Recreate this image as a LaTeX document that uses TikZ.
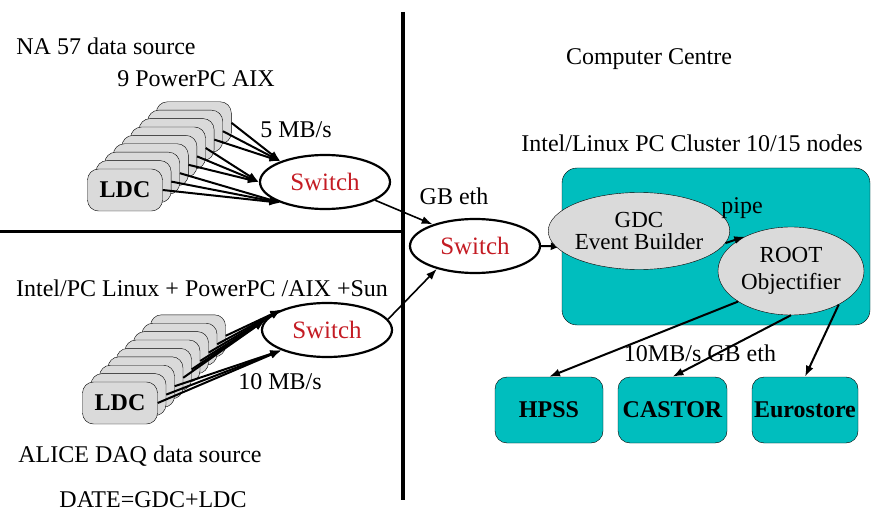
\documentclass[tikz,border=0pt]{standalone}
\usepackage{fontspec}
\setmainfont{Liberation Serif}
\usetikzlibrary{shapes.geometric,arrows.meta}
\definecolor{colteal}{RGB}{0,190,190}
\definecolor{colgray}{RGB}{218,218,218}
\definecolor{colred}{RGB}{196,28,36}
\tikzset{
  txt/.style={
    font=\fontsize{24}{27}\selectfont,
    inner sep=0pt
  },
  ldc/.style={
    draw, fill=colgray, rectangle, rounded corners=11pt,
    minimum width=75pt, minimum height=42pt, inner sep=0pt,
    font=\fontsize{24}{27}\selectfont\bfseries
  },
  swnode/.style={
    draw, ellipse, line width=2.2pt, inner sep=0pt,
    minimum width=130pt, minimum height=54pt,
    text=colred, font=\fontsize{25}{27}\selectfont
  },
  proc/.style={
    draw, ellipse, fill=colgray, align=center, inner sep=0pt
  },
  store/.style={
    draw, fill=colteal, rectangle, rounded corners=12pt,
    minimum height=66pt, inner sep=0pt,
    font=\fontsize{24}{27}\selectfont\bfseries
  },
  link/.style={-{Latex[length=11pt,width=8pt]}, line width=2pt}
}

\begin{document}
\begin{tikzpicture}[x=1pt,y=-1pt]
  \useasboundingbox (0,0) rectangle (871,516);

  % dividing lines
  \draw[line width=4pt] (403,12) -- (403,500);
  \draw[line width=3pt] (0,232) -- (403,232);

  % The labels
  \node[txt] (na57) at (106,46) {NA 57 data source};
  \node[txt] (aix) at (196,79) {9 PowerPC AIX};
  \node[txt] (rateA) at (296,130) {5 MB/s};
  \node[txt] (intel) at (202,288) {Intel/PC Linux + PowerPC /AIX +Sun};
  \node[txt] (rateB) at (280,382) {10 MB/s};
  \node[txt] (alice) at (140,456) {ALICE DAQ data source};
  \node[txt] (date) at (153,500) {DATE=GDC+LDC};
  \node[txt] (gbeth) at (454,196) {GB eth};
  \node[txt] (cc) at (649,59) {Computer Centre};
  \node[txt] (pcc) at (692,143) {Intel/Linux PC Cluster 10/15 nodes};

  % LDC stacks
  \foreach \i in {8,7,...,1}
    \node[ldc] (ldcA-\i) at (125+8.6*\i, 190-8.4*\i) {};
  \node[ldc] (ldcA-0) at (125,190) {LDC};
  \foreach \i in {8,7,...,1}
    \node[ldc] (ldcB-\i) at (120+8.5*\i, 403-8.4*\i) {};
  \node[ldc] (ldcB-0) at (120,403) {LDC};

  % switches
  \node[swnode] (swA) at (325,182) {Switch};
  \node[swnode] (swB) at (327,330) {Switch};
  \node[swnode] (swC) at (475,246) {Switch};

  \foreach \i in {0,1,2}
    \draw[link] (ldcA-\i.east) -- (swA.205);
  \foreach \i in {3,4,5}
    \draw[link] (ldcA-\i.east) -- (swA.180);
  \foreach \i in {6,7,8}
    \draw[link] (ldcA-\i.east) -- (swA.155);

  \foreach \i in {0,1,2}
    \draw[link] (ldcB-\i.east) -- (swB.204);
  \foreach \i in {3,4,5}
    \draw[link] (ldcB-\i.east) -- (swB.171);
  \foreach \i in {6,7,8}
    \draw[link] (ldcB-\i.east) -- (swB.156);

  \draw[link, line width=1.6pt] (swA.-20) -- (swC.153);
  \draw[link, line width=1.6pt] (swB.10) -- (swC.211);

  % cluster
  \node[draw, fill=colteal, rectangle, rounded corners=15pt,
        minimum width=308pt, minimum height=157pt] (cluster) at (716,246.5) {};
  \draw[link] (swC.east) -- (cluster.west);

  \node[proc, minimum width=142pt, minimum height=77pt,
        font=\fontsize{23}{22}\selectfont] (gdc) at (639,231)
    {GDC\\Event Builder};
  \node[proc, minimum width=146pt, minimum height=88pt,
        font=\fontsize{23}{27}\selectfont] (root) at (791,271)
    {ROOT\\Objectifier};
  \node[txt] (pipe) at (742,208) {pipe};
  \draw[link] (gdc.-8) -- (root.143);

  % storage
  \node[txt] (rateC) at (700,353) {10MB/s GB eth};
  \node[store, minimum width=108pt] (hpss) at (549,410) {HPSS};
  \node[store, minimum width=109pt] (castor) at (672.5,410) {CASTOR};
  \node[store, minimum width=106pt] (euro) at (805,410) {Eurostore};

  \draw[link] (root.210) -- (hpss.north);
  \draw[link] (root.south) -- (castor.north);
  \draw[link] (root.-35) -- (euro.north);
\end{tikzpicture}
\end{document}
